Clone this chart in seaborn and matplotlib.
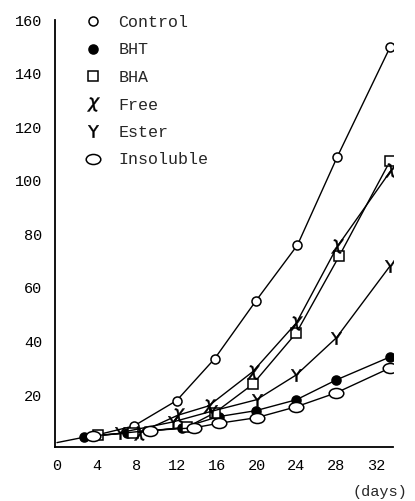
import numpy as np
import matplotlib
matplotlib.use("Agg")
import matplotlib.pyplot as plt
from matplotlib.path import Path
from matplotlib.transforms import Affine2D
import seaborn as sns
import pandas as pd

sns.set_style("white")
plt.rcParams['font.family'] = ['Liberation Mono', 'DejaVu Sans']

# ---- data ----
control_days = [3.6, 7.7, 12.0, 15.8, 19.9, 24.1, 28.1, 33.4]
control_vals = [4.8, 8.5, 18.0, 33.6, 55.0, 76.0, 109.0, 150.0]

bht_days = [0.0, 2.7, 7.0, 12.5, 16.2, 19.9, 24.0, 28.0, 33.4]
bht_vals = [2.3, 4.3, 6.0, 7.8, 12.0, 14.2, 18.3, 25.7, 34.3]

bha_days = [4.1, 7.6, 13.0, 15.8, 19.6, 24.0, 28.3, 33.4]
bha_vals = [5.0, 6.0, 8.0, 13.4, 24.0, 43.3, 72.0, 107.5]

free_days = [8.3, 12.1, 15.2, 19.6, 24.0, 28.1, 33.5]
free_vals = [6.0, 12.5, 16.0, 28.7, 47.0, 75.5, 104.0]

ester_days = [6.3, 11.6, 15.5, 20.0, 24.0, 28.0, 33.4]
ester_vals = [6.0, 10.0, 14.0, 18.3, 27.6, 41.4, 68.3]

insol_days = [3.6, 9.3, 13.7, 16.2, 20.0, 24.0, 28.0, 33.4]
insol_vals = [4.8, 6.8, 7.8, 9.5, 11.6, 15.7, 20.9, 30.2]

series_names = ["Control", "BHT", "BHA", "Free", "Ester", "Insoluble"]
x_ticks = [0, 4, 8, 12, 16, 20, 24, 28, 32]
y_ticks = [20, 40, 60, 80, 100, 120, 140, 160]

# ---- figure ----
fig = plt.figure(figsize=(4.15, 5.01), dpi=100)
ax = fig.add_axes([0.1325, 0.108, 0.815, 0.852])

ellipse = Path.unit_circle().transformed(Affine2D().scale(1.45, 1.0))

styles = {
    "Control": dict(marker="o", ms=6.5, mfc="white"),
    "BHT": dict(marker="o", ms=6.5, mfc="black"),
    "BHA": dict(marker="s", ms=7, mfc="white"),
    "Free": dict(marker=r"$\chi$", ms=10, mfc="black", mew=0.3),
    "Ester": dict(marker=r"$\mathsf{Y}$", ms=9, mfc="black", mew=0.3),
    "Insoluble": dict(marker=ellipse, ms=10.5, mfc="white"),
}
data = {
    "Control": (control_days, control_vals),
    "BHT": (bht_days, bht_vals),
    "BHA": (bha_days, bha_vals),
    "Free": (free_days, free_vals),
    "Ester": (ester_days, ester_vals),
    "Insoluble": (insol_days, insol_vals),
}

handles = []
for name in series_names:
    d, v = data[name]
    df = pd.DataFrame({"day": d, "val": v})
    st = styles[name]
    me = slice(1, None) if name == "BHT" else None
    sns.lineplot(data=df, x="day", y="val", ax=ax, color="black", lw=1.0,
                 marker=st["marker"], markersize=st["ms"],
                 markerfacecolor=st["mfc"], markeredgecolor="black",
                 markeredgewidth=st.get("mew", 1.1), markevery=me,
                 estimator=None, sort=False, legend=False)
    h, = ax.plot([], [], ls="none", marker=st["marker"], markersize=st["ms"],
                 markerfacecolor=st["mfc"], markeredgecolor="black",
                 markeredgewidth=st.get("mew", 1.1), color="black")
    handles.append(h)

ax.set_xlim(-0.2, 33.7)
ax.set_ylim(0.7, 160)
ax.set_xticks(x_ticks)
ax.set_xticklabels([str(t) for t in x_ticks])
ax.set_yticks(y_ticks)
ax.set_yticklabels([str(t) for t in y_ticks])
ax.set_xlabel("")
ax.set_ylabel("")
ax.tick_params(axis="both", direction="in", length=7, width=1.1,
               labelsize=11, colors="black")
ax.tick_params(axis="y", pad=9)
ax.tick_params(axis="x", pad=9)
for s in ["top", "right"]:
    ax.spines[s].set_visible(False)
for s in ["left", "bottom"]:
    ax.spines[s].set_color("black")
    ax.spines[s].set_linewidth(1.3)

leg = ax.legend(handles, series_names, loc="upper left",
                bbox_to_anchor=(85 / 415, 1 - 15 / 501),
                bbox_transform=fig.transFigure, frameon=False,
                fontsize=12, handlelength=1.0, handletextpad=1.0,
                labelspacing=0.75, borderpad=0, borderaxespad=0)

fig.text(380 / 415, 1 - 492 / 501, "(days)", ha="center", va="center",
         fontsize=11)

fig.savefig("out.png", dpi=100)
